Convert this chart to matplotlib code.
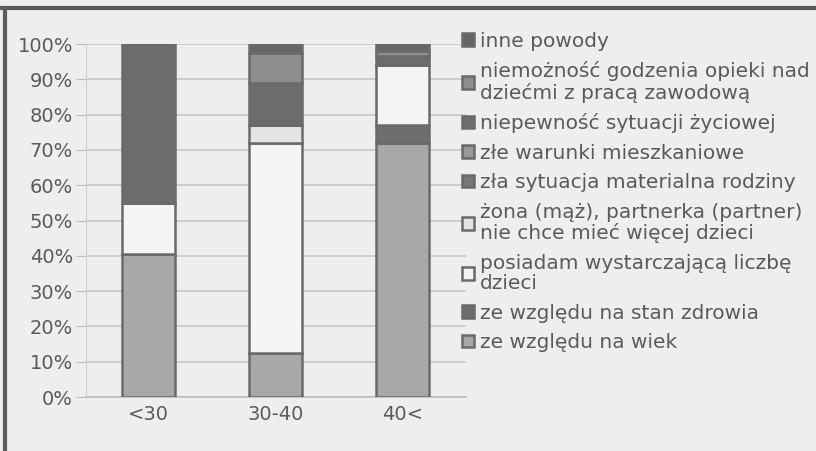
import numpy as np
import matplotlib
matplotlib.use("Agg")
import matplotlib.pyplot as plt
from matplotlib.lines import Line2D

# Dane (procenty, od dołu słupka)
grupy = ["<30", "30-40", "40<"]
powody = [
    "ze względu na wiek",
    "ze względu na stan zdrowia",
    "posiadam wystarczającą liczbę\ndzieci",
    "żona (mąż), partnerka (partner)\nnie chce mieć więcej dzieci",
    "zła sytuacja materialna rodziny",
    "złe warunki mieszkaniowe",
    "niepewność sytuacji życiowej",
    "niemożność godzenia opieki nad\ndziećmi z pracą zawodową",
    "inne powody",
]
wiek = [40.5, 12.5, 72.0]
zdrowie = [0.0, 0.0, 5.0]
posiadam = [14.5, 59.5, 17.0]
zona = [0.0, 5.0, 0.0]
materialna = [0.0, 0.0, 0.0]
mieszkaniowe = [0.0, 0.0, 0.0]
niepewnosc = [45.0, 12.0, 2.5]
niemoznosc = [0.0, 8.5, 1.5]
inne = [0.0, 2.5, 2.0]

serie = [wiek, zdrowie, posiadam, zona, materialna, mieszkaniowe,
         niepewnosc, niemoznosc, inne]
kolory = ["#a8a8a8", "#6e6e6e", "#f4f4f4", "#e4e4e4", "#777777",
          "#9a9a9a", "#6c6c6c", "#8e8e8e", "#666666"]

tlo = "#eeeeee"
fig = plt.figure(figsize=(8.16, 4.51), dpi=100, facecolor=tlo)
ax = fig.add_axes([0.1048, 0.1197, 0.4657, 0.7827], facecolor=tlo)

x = np.arange(len(grupy))
dol = np.zeros(len(grupy))
uchwyty = []
for wart, kol, lab in zip(serie, kolory, powody):
    b = ax.bar(x, wart, bottom=dol, width=0.42, color=kol,
               edgecolor="#6a6a6a", linewidth=1.8, label=lab, zorder=3)
    uchwyty.append(b)
    dol += np.array(wart)

ax.set_xlim(-0.5, 2.5)
ax.set_ylim(0, 100)
ax.set_yticks(np.arange(0, 101, 10))
ax.set_yticklabels([f"{v}%" for v in range(0, 101, 10)])
ax.set_xticks(x)
ax.set_xticklabels(grupy)
ax.grid(axis="y", color="#c6c6c6", linewidth=1.2, zorder=0)
ax.tick_params(axis="y", length=7, color="#bdbdbd", labelsize=14,
               labelcolor="#5a5a5a", pad=2)
ax.tick_params(axis="x", length=0, labelsize=14, labelcolor="#5a5a5a", pad=6)
for s in ["top", "right"]:
    ax.spines[s].set_visible(False)
ax.spines["left"].set_color("#cfcfcf")
ax.spines["bottom"].set_color("#bdbdbd")
ax.spines["bottom"].set_linewidth(1.2)

leg = ax.legend(uchwyty[::-1], powody[::-1], loc="upper left",
                bbox_to_anchor=(0.566, 0.93), bbox_transform=fig.transFigure,
                frameon=False, fontsize=14.5, handlelength=0.6,
                handleheight=0.6, handletextpad=0.3, labelspacing=0.52,
                borderpad=0, borderaxespad=0)
for t in leg.get_texts():
    t.set_color("#5a5a5a")
    t.set_linespacing(1.1)

# ramka skanu
fig.add_artist(Line2D([0, 1], [0.982, 0.982], color="#5c5c5c", linewidth=3,
                      transform=fig.transFigure))
fig.add_artist(Line2D([0.006, 0.006], [0, 0.982], color="#5c5c5c", linewidth=3,
                      transform=fig.transFigure))

fig.savefig("out.png", dpi=100, facecolor=tlo)
